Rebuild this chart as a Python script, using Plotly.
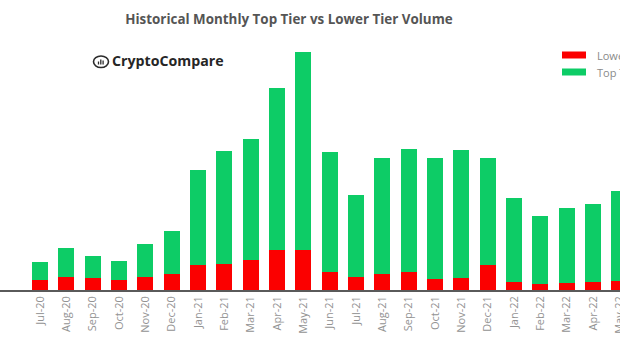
import plotly.graph_objects as go

# Monthly spot volume split by exchange tier (USD billions)
months = ["Jul-20", "Aug-20", "Sep-20", "Oct-20", "Nov-20", "Dec-20",
          "Jan-21", "Feb-21", "Mar-21", "Apr-21", "May-21", "Jun-21",
          "Jul-21", "Aug-21", "Sep-21", "Oct-21", "Nov-21", "Dec-21",
          "Jan-22", "Feb-22", "Mar-22", "Apr-22", "May-22"]
lower_tier = [97, 133, 117, 103, 127, 157, 247, 260, 300, 400, 400, 185,
              133, 160, 177, 107, 117, 250, 77, 60, 73, 83, 90]
top_tier = [183, 284, 226, 187, 333, 436, 953, 1127, 1213, 1623, 1980, 1192,
            814, 1163, 1230, 1213, 1283, 1067, 840, 680, 747, 780, 897]

RED = "#fb0000"
GREEN = "#0dcc66"
W, H = 620, 349
T, B = 40, 59


def px_x(p):
    return p / W


def px_y(p):
    return (H - B - p) / (H - T - B)


fig = go.Figure()
fig.add_trace(go.Bar(x=list(range(len(months))), y=lower_tier, name="Lower Tier",
                     marker=dict(color=RED, line=dict(width=0))))
fig.add_trace(go.Bar(x=list(range(len(months))), y=top_tier, name="Top Tier",
                     marker=dict(color=GREEN, line=dict(width=0))))

shapes = [
    # legend swatches
    dict(type="rect", xref="paper", yref="paper", x0=px_x(562), x1=px_x(586),
         y0=px_y(58.5), y1=px_y(51.5), fillcolor=RED, line=dict(width=0)),
    dict(type="rect", xref="paper", yref="paper", x0=px_x(562), x1=px_x(586),
         y0=px_y(75.5), y1=px_y(68.5), fillcolor=GREEN, line=dict(width=0)),
    # logo mark: oval with a tiny bar chart inside
    dict(type="circle", xref="paper", yref="paper", x0=px_x(93.5), x1=px_x(108.5),
         y0=px_y(67.5), y1=px_y(56), line=dict(color="#2b2b2b", width=1.6)),
    dict(type="line", xref="paper", yref="paper", x0=px_x(98.5), x1=px_x(98.5),
         y0=px_y(64.5), y1=px_y(61.5), line=dict(color="#2b2b2b", width=1.3)),
    dict(type="line", xref="paper", yref="paper", x0=px_x(100.8), x1=px_x(100.8),
         y0=px_y(64.5), y1=px_y(59.5), line=dict(color="#2b2b2b", width=1.3)),
    dict(type="line", xref="paper", yref="paper", x0=px_x(103.1), x1=px_x(103.1),
         y0=px_y(64.5), y1=px_y(60.5), line=dict(color="#2b2b2b", width=1.3)),
]

annotations = [
    dict(text="CryptoCompare", xref="paper", yref="paper", x=px_x(109.5), y=px_y(60.5),
         xanchor="left", yanchor="middle", showarrow=False,
         font=dict(family="Open Sans", size=14.2, color="#262626", weight=700)),
    dict(text="Lower Tier", xref="paper", yref="paper", x=px_x(595), y=px_y(55),
         xanchor="left", yanchor="middle", showarrow=False,
         font=dict(family="Open Sans", size=11, color="#8a8a8a")),
    dict(text="Top Tier", xref="paper", yref="paper", x=px_x(595), y=px_y(72),
         xanchor="left", yanchor="middle", showarrow=False,
         font=dict(family="Open Sans", size=11, color="#8a8a8a")),
]

fig.update_layout(
    width=W, height=H,
    margin=dict(l=0, r=0, t=T, b=B, pad=0, autoexpand=False),
    paper_bgcolor="white", plot_bgcolor="white",
    barmode="stack", bargap=0.39,
    showlegend=False,
    title=dict(text="Historical Monthly Top Tier vs Lower Tier Volume",
               x=289 / W, xref="container", xanchor="center",
               y=1 - 19 / H, yref="container", yanchor="middle",
               font=dict(family="Open Sans", size=13.4, color="#555555", weight=700)),
    shapes=shapes,
    annotations=annotations,
    xaxis=dict(
        range=[-1.52, 22.02],
        tickmode="array", tickvals=list(range(len(months))), ticktext=months,
        tickangle=-90, ticks="", showgrid=False, zeroline=False,
        ticklabeloverflow="allow",
        showline=True, linecolor="#5a5a5a", linewidth=1.5,
        tickfont=dict(family="Open Sans", size=11, color="#939393"),
    ),
    yaxis=dict(range=[0, 2500], visible=False, showgrid=False, zeroline=False),
)

fig.write_html("out.html")
